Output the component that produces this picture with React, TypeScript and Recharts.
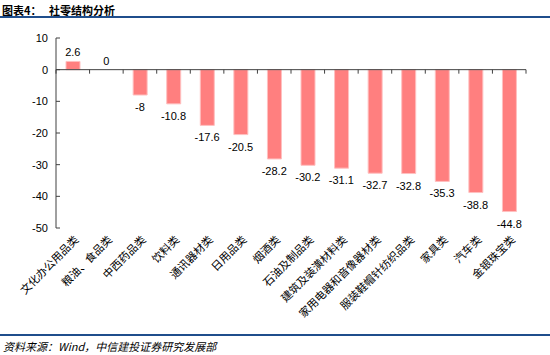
import { ComposedChart, Bar, Line, XAxis, YAxis, ReferenceLine, LabelList } from 'recharts';

const categories = [
  '文化办公用品类',
  '粮油、食品类',
  '中西药品类',
  '饮料类',
  '通讯器材类',
  '日用品类',
  '烟酒类',
  '石油及制品类',
  '建筑及装潢材料类',
  '家用电器和音像器材类',
  '服装鞋帽针纺织品类',
  '家具类',
  '汽车类',
  '金银珠宝类',
];
const values = [2.6, 0, -8, -10.8, -17.6, -20.5, -28.2, -30.2, -31.1, -32.7, -32.8, -35.3, -38.8, -44.8];
const yTicks = [10, 0, -10, -20, -30, -40, -50];

const data = categories.map((name, i) => ({ name, value: values[i] }));

const W = 550;
const H = 355;
const PLOT_LEFT = 56;
const PLOT_RIGHT = 526;
const PLOT_TOP = 38;
const PLOT_BOTTOM = 228;
const Y_MIN = -50;
const Y_MAX = 10;
const zeroY = PLOT_TOP + ((Y_MAX - 0) / (Y_MAX - Y_MIN)) * (PLOT_BOTTOM - PLOT_TOP);
const band = (PLOT_RIGHT - PLOT_LEFT) / categories.length;

const numFont = '"Liberation Sans", Arial, sans-serif';
const cjkFont = '"Noto Sans CJK SC", "Noto Sans", sans-serif';

function XTick(props: any) {
  const { x, payload, index } = props;
  const lx = x + 3;
  const ly = PLOT_BOTTOM + 9;
  return (
    <g>
      <line x1={x + band / 2} y1={zeroY} x2={x + band / 2} y2={zeroY + 4} stroke="#404040" strokeWidth={1} />
      {index === 0 && <line x1={x - band / 2} y1={zeroY} x2={x - band / 2} y2={zeroY + 4} stroke="#404040" />}
      <text
        x={lx}
        y={ly}
        transform={`rotate(-45, ${lx}, ${ly})`}
        textAnchor="end"
        dominantBaseline="central"
        fontSize={11}
        fontFamily={cjkFont}
        fill="#000"
      >
        {payload.value}
      </text>
    </g>
  );
}

function YTick(props: any) {
  const { y, payload } = props;
  return (
    <g>
      <line x1={PLOT_LEFT} y1={y} x2={PLOT_LEFT + 4} y2={y} stroke="#404040" strokeWidth={1} />
      <text x={PLOT_LEFT - 8} y={y} textAnchor="end" dominantBaseline="central" fontSize={11} fontFamily={numFont} fill="#000">
        {payload.value}
      </text>
    </g>
  );
}

// label placed from the value point: below negative bars, above the rest
function ValueLabel(props: any) {
  const { x, y, value } = props;
  const ly = value < 0 ? y + 12 : y - 9;
  return (
    <text x={x} y={ly} textAnchor="middle" dominantBaseline="central" fontSize={11} fontFamily={numFont} fill="#000">
      {String(value)}
    </text>
  );
}

export default function App() {
  return (
    <div style={{ position: 'absolute', left: 0, top: 0, width: W, height: H, background: '#fff' }}>
      <div
        style={{
          position: 'absolute',
          left: 2,
          top: 2,
          fontSize: 11,
          fontWeight: 'bold',
          fontFamily: cjkFont,
          color: '#000',
          whiteSpace: 'pre',
        }}
      >
        {'图表4：   社零结构分析'}
      </div>
      <div style={{ position: 'absolute', left: 0, top: 16, width: W, height: 2, background: '#1F4E8C' }} />
      <div style={{ position: 'absolute', left: 0, top: 334, width: W, height: 2, background: '#1F4E8C' }} />
      <div
        style={{
          position: 'absolute',
          left: 3,
          top: 338,
          fontSize: 11,
          fontStyle: 'italic',
          fontFamily: cjkFont,
          color: '#000',
          whiteSpace: 'pre',
        }}
      >
        {'资料来源：Wind，中信建投证券研究发展部'}
      </div>
      <div style={{ position: 'absolute', left: 0, top: 0 }}>
        <ComposedChart
          width={W}
          height={H}
          data={data}
          margin={{ top: PLOT_TOP, right: W - PLOT_RIGHT, bottom: 27, left: 0 }}
          barSize={14}
        >
          <XAxis
            dataKey="name"
            interval={0}
            axisLine={false}
            tickLine={false}
            height={H - PLOT_BOTTOM - 27}
            tick={<XTick />}
          />
          <YAxis
            width={PLOT_LEFT}
            domain={[Y_MIN, Y_MAX]}
            ticks={yTicks}
            interval={0}
            axisLine={{ stroke: '#404040' }}
            tickLine={false}
            tick={<YTick />}
          />
          <ReferenceLine y={0} stroke="#404040" strokeWidth={1} />
          <Bar dataKey="value" fill="#FF7F7F" stroke="#FFC0C0" strokeWidth={1} isAnimationActive={false} />
          <Line dataKey="value" stroke="none" dot={false} activeDot={false} isAnimationActive={false}>
            <LabelList dataKey="value" content={<ValueLabel />} />
          </Line>
        </ComposedChart>
      </div>
    </div>
  );
}
